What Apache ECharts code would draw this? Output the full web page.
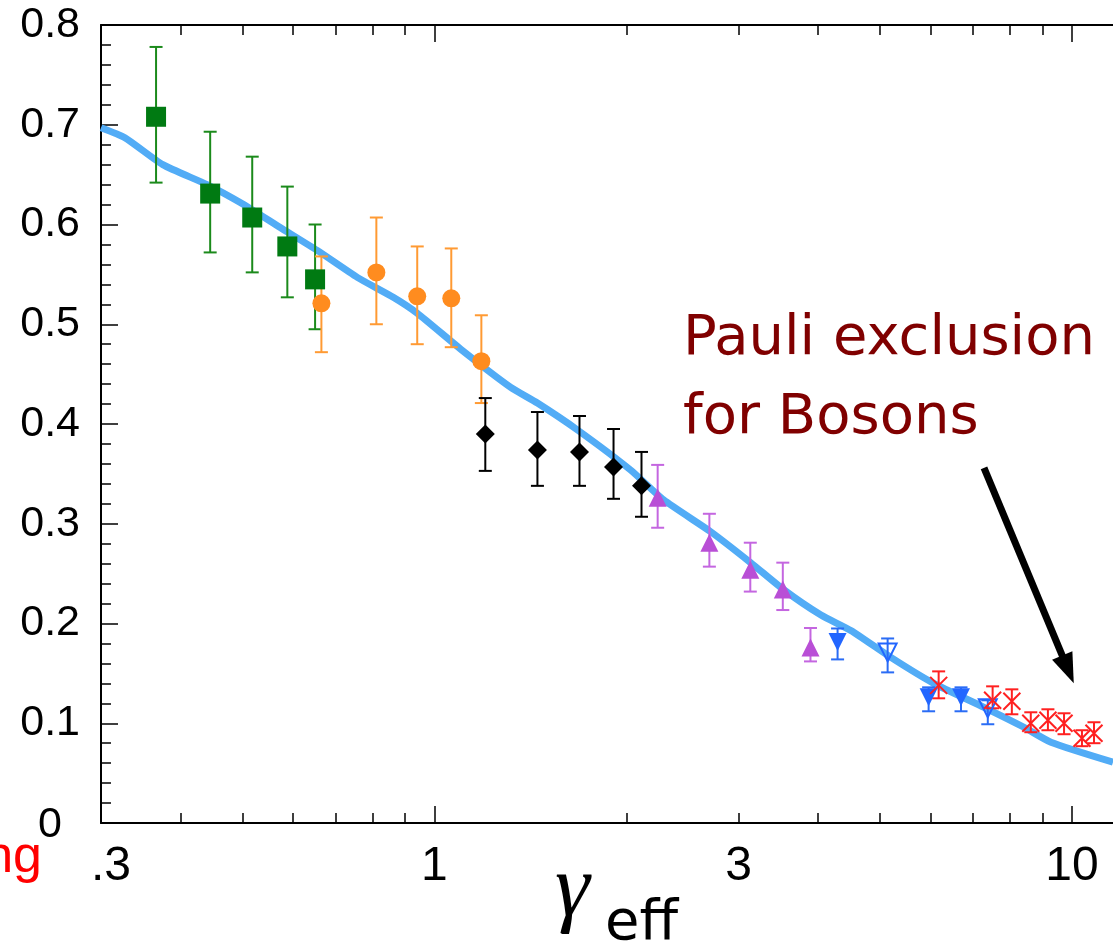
<!DOCTYPE html>
<html>
<head>
<meta charset="utf-8">
<script src="https://cdn.jsdelivr.net/npm/echarts@6/dist/echarts.min.js"></script>
<style>
html, body { margin: 0; padding: 0; background: #fff; }
#chart { width: 1113px; height: 947px; }
</style>
</head>
<body>
<div id="chart"></div>
<script>
// curve (model)
var curveX = [0.30, 0.327, 0.375, 0.44, 0.496, 0.573, 0.655, 0.757, 0.862, 0.94, 1.10, 1.316, 1.451, 1.677, 2.03, 2.288, 2.713, 3.134, 3.53, 4.04, 4.50, 5.20, 6.07, 7.28, 8.41, 9.27, 11.6];
var curveY = [0.697, 0.687, 0.660, 0.640, 0.622, 0.597, 0.574, 0.547, 0.527, 0.511, 0.475, 0.437, 0.421, 0.394, 0.354, 0.324, 0.292, 0.261, 0.234, 0.2085, 0.193, 0.166, 0.140, 0.116, 0.096, 0.081, 0.061];

// green squares
var greenX = [0.366, 0.445, 0.518, 0.588, 0.650];
var greenY = [0.708, 0.631, 0.607, 0.578, 0.545];
var greenLo = [0.642, 0.572, 0.552, 0.527, 0.495];
var greenHi = [0.778, 0.693, 0.668, 0.638, 0.600];

// orange circles
var orangeX = [0.665, 0.811, 0.940, 1.063, 1.185];
var orangeY = [0.521, 0.552, 0.528, 0.526, 0.463];
var orangeLo = [0.472, 0.500, 0.480, 0.477, 0.421];
var orangeHi = [0.568, 0.607, 0.578, 0.576, 0.509];

// black diamonds
var blackX = [1.202, 1.451, 1.689, 1.910, 2.113];
var blackY = [0.390, 0.374, 0.372, 0.357, 0.338];
var blackLo = [0.353, 0.338, 0.338, 0.325, 0.307];
var blackHi = [0.426, 0.412, 0.408, 0.395, 0.372];

// purple triangles
var purpleX = [2.24, 2.70, 3.13, 3.52, 3.89];
var purpleY = [0.326, 0.281, 0.254, 0.234, 0.176];
var purpleLo = [0.296, 0.257, 0.232, 0.2135, 0.162];
var purpleHi = [0.359, 0.310, 0.281, 0.261, 0.1955];

// blue down triangles, filled and open
var blueX = [4.29, 5.96, 6.70];
var blueY = [0.1815, 0.126, 0.126];
var blueLo = [0.164, 0.112, 0.112];
var blueHi = [0.195, 0.136, 0.136];
var blueOpenX = [5.14, 7.38];
var blueOpenY = [0.171, 0.115];
var blueOpenLo = [0.151, 0.099];
var blueOpenHi = [0.185, 0.123];

// red crosses
var redX = [6.18, 7.51, 8.05, 8.62, 9.17, 9.72, 10.37, 10.83];
var redY = [0.138, 0.123, 0.122, 0.100, 0.103, 0.100, 0.085, 0.090];
var redLo = [0.125, 0.115, 0.109, 0.091, 0.093, 0.089, 0.077, 0.080];
var redHi = [0.152, 0.137, 0.134, 0.111, 0.114, 0.110, 0.093, 0.101];

// axis ticks
var xLabelValues = [0.3, 1, 3, 10];
var xMajorTicks = [1, 10];
var xMinorTicks = [0.4, 0.5, 0.6, 0.7, 0.8, 0.9, 2, 3, 4, 5, 6, 7, 8, 9];

// arrow from the text to the points
var arrowFrom = [7.28, 0.356];
var arrowTo = [9.86, 0.154];

function zip(xs, ys) {
	return xs.map(function (x, i) { return [x, ys[i]]; });
}
function zip3(xs, lo, hi) {
	return xs.map(function (x, i) { return [x, lo[i], hi[i]]; });
}

function errorBar(color) {
	return function (params, api) {
		var x = api.value(0);
		var top = api.coord([x, api.value(2)]);
		var bot = api.coord([x, api.value(1)]);
		var w = 6.5;
		var style = { stroke: color, lineWidth: 2 };
		return {
			type: 'group',
			children: [
				{ type: 'line', shape: { x1: top[0], y1: top[1], x2: bot[0], y2: bot[1] }, style: style },
				{ type: 'line', shape: { x1: top[0] - w, y1: top[1], x2: top[0] + w, y2: top[1] }, style: style },
				{ type: 'line', shape: { x1: bot[0] - w, y1: bot[1], x2: bot[0] + w, y2: bot[1] }, style: style }
			]
		};
	};
}

function barSeries(xs, lo, hi, color) {
	return {
		type: 'custom',
		renderItem: errorBar(color),
		encode: { x: 0, y: [1, 2] },
		data: zip3(xs, lo, hi),
		z: 3,
		silent: true
	};
}

function pointSeries(xs, ys, symbol, size, itemStyle, rotate) {
	itemStyle.opacity = 1;
	return {
		type: 'scatter',
		symbol: symbol,
		symbolSize: size,
		symbolRotate: rotate || 0,
		itemStyle: itemStyle,
		data: zip(xs, ys),
		z: 4,
		silent: true
	};
}

var axisFont = '"Liberation Sans", Arial, sans-serif';
var black = '#000';

function xDeco(position, ticks, len, showLine) {
	return {
		type: 'log',
		min: 0.3,
		max: 11.6,
		position: position,
		axisLine: { show: showLine, lineStyle: { color: black, width: 2 } },
		axisTick: { show: true, inside: true, length: len, customValues: ticks, lineStyle: { color: black, width: 1.5 } },
		axisLabel: { show: false },
		splitLine: { show: false }
	};
}

var chart = echarts.init(document.getElementById('chart'));
chart.setOption({
	animation: false,
	backgroundColor: '#fff',
	grid: { left: 101, right: 0, top: 25, bottom: 124 },
	xAxis: [
		{
			type: 'log',
			min: 0.3,
			max: 11.6,
			position: 'bottom',
			axisLine: { show: true, lineStyle: { color: black, width: 2 } },
			axisTick: { show: true, inside: true, length: 17, customValues: xMajorTicks, lineStyle: { color: black, width: 1.5 } },
			axisLabel: {
				customValues: xLabelValues,
				margin: 20,
				color: black,
				fontSize: 48,
				fontFamily: axisFont,
				formatter: function (v) {
					if (Math.abs(v - 0.3) < 1e-6) return '{p|.3}';
					return String(Math.round(v));
				},
				rich: { p: { fontSize: 48, fontFamily: axisFont, color: black, padding: [0, 0, 0, 20] } }
			},
			splitLine: { show: false }
		},
		xDeco('bottom', xMinorTicks, 10, false),
		xDeco('top', xMajorTicks, 17, true),
		xDeco('top', xMinorTicks, 10, false)
	],
	yAxis: {
		type: 'value',
		min: 0,
		max: 0.8,
		interval: 0.1,
		axisLine: { show: true, lineStyle: { color: black, width: 2 } },
		axisTick: { show: true, inside: true, length: 17, lineStyle: { color: black, width: 1.5 } },
		minorTick: { show: true, splitNumber: 5, length: 10, lineStyle: { color: black, width: 1.5 } },
		axisLabel: {
			margin: 21,
			color: black,
			fontSize: 43,
			fontFamily: axisFont,
			formatter: function (v) {
				if (v === 0) return '{z|0}';
				return v.toFixed(1);
			},
			rich: { z: { fontSize: 43, fontFamily: axisFont, color: black, padding: [4, 18, 0, 0] } }
		},
		splitLine: { show: false }
	},
	series: [
		{
			type: 'line',
			data: zip(curveX, curveY),
			smooth: 0.2,
			showSymbol: false,
			lineStyle: { color: '#52acf6', width: 7 },
			z: 2,
			silent: true,
			markLine: {
				silent: true,
				symbol: ['none', 'triangle'],
				symbolSize: [22, 30],
				label: { show: false },
				lineStyle: { color: black, width: 7, type: 'solid' },
				itemStyle: { color: black },
				data: [[{ coord: arrowFrom }, { coord: arrowTo }]]
			}
		},
		barSeries(greenX, greenLo, greenHi, '#1b8a1b'),
		pointSeries(greenX, greenY, 'rect', 20, { color: '#007a12' }),
		barSeries(orangeX, orangeLo, orangeHi, '#ff9a33'),
		pointSeries(orangeX, orangeY, 'circle', 18, { color: '#ff8c1f' }),
		barSeries(blackX, blackLo, blackHi, '#000'),
		pointSeries(blackX, blackY, 'diamond', 19, { color: '#000' }),
		barSeries(purpleX, purpleLo, purpleHi, '#c466e0'),
		pointSeries(purpleX, purpleY, 'triangle', 18, { color: '#b94fd6' }),
		barSeries(blueX, blueLo, blueHi, '#2a6cf5'),
		pointSeries(blueX, blueY, 'triangle', 18, { color: '#2266ff' }, 180),
		barSeries(blueOpenX, blueOpenLo, blueOpenHi, '#2a6cf5'),
		pointSeries(blueOpenX, blueOpenY, 'triangle', 18, { color: 'rgba(0,0,0,0)', borderColor: '#2266ff', borderWidth: 2 }, 180),
		barSeries(redX, redLo, redHi, '#ff2020'),
		pointSeries(redX, redY, 'path://M0,0L10,10M10,0L0,10', 17, { color: 'none', borderColor: '#ff2020', borderWidth: 2 })
	],
	graphic: [
		{
			type: 'text', left: 683, top: 300, silent: true,
			style: { text: 'Pauli exclusion\nfor Bosons', fill: '#800000', font: '56px "Comic Sans MS", "DejaVu Sans", sans-serif', lineHeight: 79 }
		},
		{
			type: 'text', x: 555, y: 892, silent: true,
			style: { text: 'γ', fill: black, font: 'italic 88px "Liberation Serif", serif', textVerticalAlign: 'middle' }
		},
		{
			type: 'text', x: 605, y: 924, silent: true,
			style: { text: 'eff', fill: black, font: '56px "Comic Sans MS", "DejaVu Sans", sans-serif', textVerticalAlign: 'middle' }
		},
		{
			type: 'text', x: 42, y: 884, silent: true,
			style: { text: 'ng', fill: '#ff0000', font: '52px "Liberation Sans", Arial, sans-serif', textAlign: 'right', textVerticalAlign: 'bottom' }
		}
	]
});
</script>
</body>
</html>
